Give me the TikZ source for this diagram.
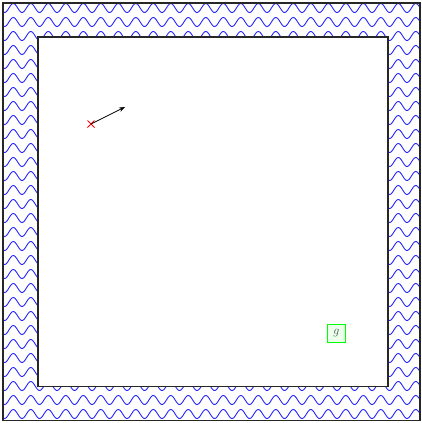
\documentclass[tikz,border=0pt]{standalone}
\usetikzlibrary{arrows.meta,calc}
\begin{document}
\begin{tikzpicture}[x=1pt,y=-1pt,
  frame/.style={draw=black!85,line width=1.3pt},
  wave/.style={draw=blue!85!white,line width=0.9pt},
  inner/.style={draw=black!85,fill=white,line width=1.3pt},
  cross/.style={draw=red,line width=0.9pt},
  gbox/.style={draw=green,fill=green!8,line width=0.9pt,minimum size=18.5pt,inner sep=0pt,font=\large}]
\useasboundingbox (0,0) rectangle (422,423);
\begin{scope}
\clip (3,3) rectangle (420,420.5);
\foreach \k in {0,...,29}{
  \draw[wave] plot[domain=0:422,samples=480,variable=\x]
    (\x,{8+14*\k-4.5*sin(20.5714*(\x-8.925))});
}
\end{scope}
\draw[frame] (3,3) rectangle (420,420.5);
\draw[inner] (38,37) rectangle (388,386.5);
\coordinate (start) at (91,124);
\coordinate (tip) at (125,107);
\draw[cross] ($(start)+(-3.5,-3.5)$) -- ($(start)+(3.5,3.5)$);
\draw[cross] ($(start)+(-3.5,3.5)$) -- ($(start)+(3.5,-3.5)$);
\draw[line width=0.8pt,-{Stealth[length=6pt,width=4.5pt]}] (start) -- (tip);
\node[gbox] (g) at (336.5,333.5) {\color{black!70}$g$};
\end{tikzpicture}
\end{document}
